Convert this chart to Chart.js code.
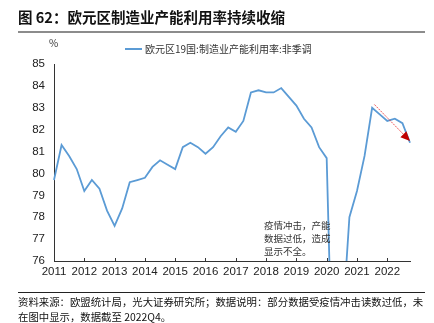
<!DOCTYPE html>
<html>
<head>
<meta charset="utf-8">
<script src="https://cdn.jsdelivr.net/npm/chart.js@4.4.1/dist/chart.umd.min.js"></script>
<style>
  html, body { margin: 0; padding: 0; background: #fff; }
  body { width: 434px; height: 323px; position: relative; overflow: hidden;
         font-family: "Noto Sans CJK SC", "Noto Sans", sans-serif; color: #222; }
  #c { position: absolute; left: 0; top: 0; }
  .abs { position: absolute; white-space: nowrap; }
  #title { left: 18px; top: 7px; font-size: 14.5px; font-weight: bold; line-height: 20px; color: #111; }
  #rule1 { left: 18px; top: 31px; width: 407px; height: 2px; background: #8c8c8c; }
  #unit { left: 49px; top: 36px; font-size: 10px; line-height: 14px; color: #333; }
  #legend { left: 125px; top: 42px; font-size: 10px; line-height: 14px; color: #333; }
  #legend .swatch { display: inline-block; width: 17px; height: 2px; background: #5B9BD5; vertical-align: middle; margin-right: 3px; position: relative; top: -1px; }
  #note { left: 264px; top: 219px; font-size: 9.5px; line-height: 13px; color: #333; }
  #rule2 { left: 18px; top: 292px; width: 407px; height: 1px; background: #222; }
  #foot { left: 18px; top: 294px; font-size: 10.4px; line-height: 15px; color: #111; }
</style>
</head>
<body>
<canvas id="c" width="434" height="323"></canvas>
<div id="title" class="abs">图 62：欧元区制造业产能利用率持续收缩</div>
<div id="rule1" class="abs"></div>
<div id="unit" class="abs">%</div>
<div id="legend" class="abs"><span class="swatch"></span>欧元区19国:制造业产能利用率:非季调</div>
<div id="note" class="abs">疫情冲击，产能<br>数据过低，造成<br>显示不全。</div>
<div id="rule2" class="abs"></div>
<div id="foot" class="abs">资料来源：欧盟统计局，光大证券研究所；数据说明：部分数据受疫情冲击读数过低，未<br>在图中显示，数据截至 2022Q4。</div>
<script>
// Quarterly observations, 2011Q1 – 2022Q4
const years = ['2011','2012','2013','2014','2015','2016','2017','2018','2019','2020','2021','2022'];
const quarters = ['Q1','Q2','Q3','Q4'];
const categories = [];
years.forEach(y => quarters.forEach(q => categories.push(y + q)));

// Euro area (19) manufacturing capacity utilisation, %, not seasonally adjusted
const utilisation = [
  79.7, 81.3, 80.8, 80.2,   // 2011
  79.2, 79.7, 79.3, 78.3,   // 2012
  77.6, 78.4, 79.6, 79.7,   // 2013
  79.8, 80.3, 80.6, 80.4,   // 2014
  80.2, 81.2, 81.4, 81.2,   // 2015
  80.9, 81.2, 81.7, 82.1,   // 2016
  81.9, 82.4, 83.7, 83.8,   // 2017
  83.7, 83.7, 83.9, 83.5,   // 2018
  83.1, 82.5, 82.1, 81.2,   // 2019
  80.7, 67.5, 72.7, 78.0,   // 2020
  79.2, 80.8, 83.0, 82.7,   // 2021
  82.4, 82.5, 82.3, 81.4    // 2022
];

// y-axis range and step
const yMin = 76, yMax = 85, yStep = 1;

// Trend arrow over the latest quarters: [category index, value]
const trendFrom = [42.3, 83.15];
const trendTo = [47, 81.48];

const inwardTicks = {
  id: 'inwardTicks',
  afterDraw(chart) {
    const ctx = chart.ctx, x = chart.scales.x, area = chart.chartArea;
    ctx.save();
    ctx.strokeStyle = '#333';
    ctx.lineWidth = 1;
    categories.forEach((c, i) => {
      if (i % 4 !== 0) return;
      const px = Math.round(x.getPixelForValue(i)) + 0.5;
      ctx.beginPath();
      ctx.moveTo(px, area.bottom);
      ctx.lineTo(px, area.bottom - 3);
      ctx.stroke();
    });
    ctx.restore();
  }
};

const trendArrow = {
  id: 'trendArrow',
  afterDatasetsDraw(chart) {
    const ctx = chart.ctx, x = chart.scales.x, y = chart.scales.y;
    const x1 = x.getPixelForValue(trendFrom[0]), y1 = y.getPixelForValue(trendFrom[1]);
    const x2 = x.getPixelForValue(trendTo[0]), y2 = y.getPixelForValue(trendTo[1]);
    const ang = Math.atan2(y2 - y1, x2 - x1);
    const head = 9.5, half = 4.2;
    const bx = x2 - head * Math.cos(ang), by = y2 - head * Math.sin(ang);
    ctx.save();
    ctx.strokeStyle = '#E83030';
    ctx.lineWidth = 0.8;
    ctx.setLineDash([2, 1]);
    ctx.beginPath();
    ctx.moveTo(x1, y1);
    ctx.lineTo(bx, by);
    ctx.stroke();
    ctx.setLineDash([]);
    ctx.fillStyle = '#C00000';
    ctx.beginPath();
    ctx.moveTo(x2, y2);
    ctx.lineTo(bx + half * Math.sin(ang), by - half * Math.cos(ang));
    ctx.lineTo(bx - half * Math.sin(ang), by + half * Math.cos(ang));
    ctx.closePath();
    ctx.fill();
    ctx.restore();
  }
};

new Chart(document.getElementById('c'), {
  type: 'line',
  data: {
    labels: categories,
    datasets: [{
      label: '欧元区19国:制造业产能利用率:非季调',
      data: utilisation,
      borderColor: '#5B9BD5',
      borderWidth: 1.8,
      pointRadius: 0,
      tension: 0,
      fill: false
    }]
  },
  options: {
    responsive: false,
    devicePixelRatio: 1,
    animation: false,
    layout: { padding: { left: 0, right: 24, top: 64, bottom: 42 } },
    plugins: { legend: { display: false }, tooltip: { enabled: false } },
    scales: {
      x: {
        type: 'category',
        offset: false,
        grid: { display: false, drawTicks: false },
        border: { display: true, color: '#333', width: 1 },
        ticks: {
          autoSkip: false,
          maxRotation: 0,
          minRotation: 0,
          padding: 4,
          color: '#222',
          font: { family: 'Liberation Sans, Arial, sans-serif', size: 11.5 },
          callback: (v, i) => (i % 4 === 0 ? categories[i].slice(0, 4) : '')
        },
        afterFit: s => { s.height = 20; }
      },
      y: {
        min: yMin,
        max: yMax,
        grid: { display: false, drawTicks: false },
        border: { display: true, color: '#333', width: 1 },
        ticks: {
          stepSize: yStep,
          padding: 9,
          color: '#222',
          font: { family: 'Liberation Sans, Arial, sans-serif', size: 11.5 }
        },
        afterFit: s => { s.width = 54; }
      }
    }
  },
  plugins: [inwardTicks, trendArrow]
});
</script>
</body>
</html>
